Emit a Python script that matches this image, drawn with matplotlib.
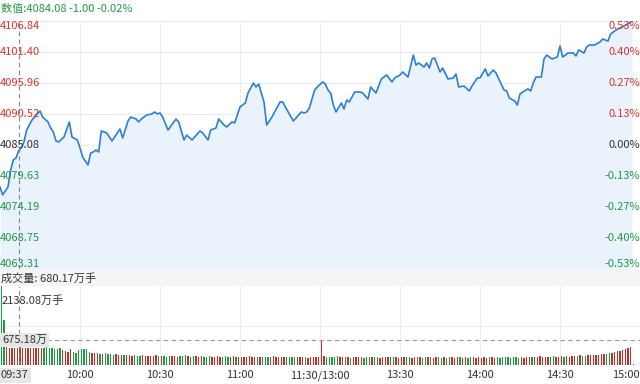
import numpy as np
import matplotlib
matplotlib.use("Agg")
import matplotlib.pyplot as plt

plt.rcParams['font.family'] = ['Noto Sans CJK SC', 'DejaVu Sans']

# ---------------- data ----------------
base_price = 4085.08
price_ticks = [4106.84, 4101.40, 4095.96, 4090.52, 4085.08, 4079.63, 4074.19, 4068.75, 4063.31]
pct_labels = ["0.53%", "0.40%", "0.27%", "0.13%", "0.00%", "-0.13%", "-0.27%", "-0.40%", "-0.53%"]

price_min = [0, 1, 3, 4, 5, 6, 7, 8, 9, 10, 12, 13, 15, 16, 18, 19, 20, 21, 22, 24, 26, 27, 29, 30,
             31, 33, 34, 35, 36, 37, 38, 39, 40, 42, 43, 45, 46, 48, 49, 51, 52, 53, 55, 57, 58, 59,
             60, 61, 63, 66, 67, 69, 70, 72, 75, 76, 78, 79, 81, 82, 84, 85, 87, 88, 90, 92, 93, 95,
             96, 97, 99, 100, 102, 105, 106, 107, 110, 113, 114, 115, 116, 118, 119, 121, 122, 123,
             124, 125, 126, 128, 129, 130, 131, 133, 135, 136, 138, 139, 141, 143, 145, 147, 148,
             150, 151, 153, 155, 156, 157, 159, 160, 161, 162, 163, 165, 166, 168, 170, 171, 172,
             174, 176, 177, 179, 180, 182, 183, 185, 186, 189, 190, 191, 193, 194, 195, 196, 198,
             199, 200, 201, 203, 204, 205, 207, 209, 210, 211, 213, 215, 216, 217, 219, 220, 221,
             223, 225, 226, 228, 229, 231, 234, 236, 237]
price_val = [4077.71, 4076.31, 4077.71, 4080.69, 4082.45, 4082.80, 4084.08, 4084.55, 4085.61, 4087.71,
             4089.47, 4089.99, 4091.05, 4089.99, 4089.12, 4088.06, 4087.36, 4085.78, 4085.61, 4086.48,
             4089.12, 4086.48, 4085.96, 4084.55, 4082.97, 4081.57, 4083.68, 4083.85, 4084.20, 4083.85,
             4087.54, 4087.36, 4087.19, 4085.78, 4086.48, 4087.89, 4086.31, 4089.29, 4089.99, 4089.64,
             4089.12, 4089.64, 4090.34, 4090.52, 4090.87, 4090.52, 4090.70, 4089.99, 4087.71, 4089.64,
             4089.12, 4085.96, 4086.83, 4085.96, 4087.54, 4087.19, 4085.96, 4087.71, 4088.06, 4089.64,
             4088.59, 4088.24, 4089.12, 4088.94, 4091.75, 4092.45, 4094.20, 4095.96, 4095.26, 4095.78,
             4092.63, 4088.59, 4089.99, 4092.63, 4092.63, 4091.75, 4089.29, 4090.87, 4090.70, 4090.87,
             4091.57, 4094.73, 4095.26, 4096.14, 4095.78, 4094.73, 4094.20, 4092.10, 4090.87, 4092.45,
             4091.40, 4092.98, 4092.63, 4094.38, 4094.38, 4094.20, 4093.15, 4095.26, 4094.20, 4096.66,
             4097.36, 4096.14, 4096.84, 4097.36, 4097.89, 4097.01, 4100.87, 4099.12, 4099.47, 4098.77,
             4099.47, 4098.59, 4100.17, 4100.35, 4097.89, 4098.59, 4096.66, 4096.84, 4097.54, 4095.26,
             4095.43, 4094.56, 4095.43, 4096.84, 4096.84, 4098.42, 4097.19, 4098.24, 4097.71, 4094.73,
             4094.56, 4093.33, 4092.80, 4092.10, 4094.03, 4094.38, 4094.91, 4094.56, 4095.96, 4097.01,
             4097.01, 4100.17, 4100.87, 4100.17, 4100.52, 4102.45, 4100.52, 4101.22, 4101.22, 4100.70,
             4101.75, 4101.22, 4102.28, 4102.63, 4102.63, 4103.15, 4103.68, 4103.33, 4104.56, 4105.26,
             4105.96, 4106.49, 4106.84]

volume = [2138, 1215, 520, 470, 460, 470, 450, 680, 470, 460,
          455, 465, 450, 470, 460, 455, 470, 480, 465, 470,
          440, 430, 470, 400, 380, 350, 420, 360, 330, 400,
          430, 440, 440, 360, 330, 320, 330, 310, 300, 320,
          290, 300, 280, 290, 270, 260, 280, 270, 260, 250,
          260, 250, 240, 260, 250, 240, 250, 240, 260, 250,
          240, 250, 230, 240, 250, 240, 230, 240, 250, 270,
          240, 230, 240, 250, 230, 240, 220, 230, 240, 230,
          230, 240, 220, 230, 240, 230, 220, 240, 230, 220,
          230, 220, 230, 240, 220, 210, 230, 220, 220, 230,
          220, 230, 240, 220, 230, 220, 210, 230, 220, 220,
          230, 210, 220, 230, 210, 200, 220, 210, 220, 210,
          650, 250, 230, 220, 230, 220, 240, 220, 210, 230,
          220, 200, 210, 220, 210, 220, 200, 210, 230, 220,
          210, 220, 200, 230, 210, 220, 230, 210, 220, 200,
          210, 230, 220, 210, 200, 220, 210, 220, 200, 210,
          220, 210, 200, 210, 220, 200, 210, 200, 220, 210,
          200, 210, 220, 200, 210, 200, 210, 220, 200, 210,
          200, 210, 200, 220, 210, 200, 210, 200, 220, 210,
          210, 200, 220, 210, 200, 210, 200, 220, 210, 230,
          220, 210, 240, 220, 230, 220, 230, 240, 230, 220,
          250, 230, 240, 230, 250, 240, 250, 260, 240, 250,
          260, 270, 260, 280, 270, 290, 300, 310, 320, 330,
          350, 370, 390, 400, 420, 450, 480, 15]

time_labels = ["10:00", "10:30", "11:00", "11:30/13:00", "13:30", "14:00", "14:30", "15:00"]
time_pos = [30, 60, 90, 120, 150, 180, 210, 240]

cross_min = 7
cross_time = "09:37"
cross_vol_label = "675.18万"
cross_vol_value = 675.18
vol_max = 2138.08
header = "数值:4084.08 -1.00 -0.02%"
vol_header = "成交量: 680.17万手"

# ---------------- style ----------------
W, H = 640, 384
RED = '#e0332b'
GREEN = '#1f9a47'
BAR_RED = '#c0302a'
BAR_GREEN = '#1e9a45'
GRID = '#e8ecf3'
LINE = '#2b7fd6'
FS = 8

fig = plt.figure(figsize=(W / 100, H / 100), dpi=100)
fig.patch.set_facecolor('white')

def px_axes(x0, y0, x1, y1):
    return fig.add_axes([x0 / W, 1 - y1 / H, (x1 - x0) / W, (y1 - y0) / H])

# main price axes
ax = px_axes(0, 21, 640, 269)
ax.set_xlim(0, 240)
ax.set_ylim(price_ticks[-1], price_ticks[0])
for s in ax.spines.values():
    s.set_visible(False)
ax.set_xticks([])
ax.set_yticks([])
for p in price_ticks:
    ax.axhline(p, color=GRID, lw=0.8, zorder=0)
for t in time_pos[:-1]:
    ax.axvline(t, color=GRID, lw=0.8, zorder=0)
ax.fill_between(price_min, price_val, price_ticks[-1], color='#eaf2fc', lw=0, zorder=1)
ax.plot(price_min, price_val, color=LINE, lw=1.2, zorder=3)

for i, (p, pl) in enumerate(zip(price_ticks, pct_labels)):
    if p > base_price:
        c = RED
    elif p < base_price:
        c = GREEN
    else:
        c = '#333333'
    va = 'center'
    if i == 0:
        va = 'top'
    elif i == len(price_ticks) - 1:
        va = 'bottom'
    ax.text(0.0, p, f"{p:.2f}", color=c, fontsize=FS, va=va, ha='left',
            transform=ax.get_yaxis_transform(), zorder=5)
    ax.text(1.0, p, pl, color=c, fontsize=FS, va=va, ha='right',
            transform=ax.get_yaxis_transform(), zorder=5)

# header
fig.text(1 / W, 1 - 9 / H, header, color=GREEN, fontsize=FS, va='center', ha='left')

# volume header band
band = px_axes(0, 269, 640, 288)
band.set_facecolor('#f4f5f7')
band.set_xticks([]); band.set_yticks([])
for s in band.spines.values():
    s.set_visible(False)
band.text(0.002, 0.5, vol_header, color='#333333', fontsize=FS, va='center', ha='left',
          transform=band.transAxes)

# volume axes
vax = px_axes(0, 286, 640, 365)
vax.set_xlim(0, 240)
vax.set_ylim(0, vol_max)
for s in vax.spines.values():
    s.set_visible(False)
vax.set_xticks([]); vax.set_yticks([])
for t in time_pos[:-1]:
    vax.axvline(t, color=GRID, lw=0.8, zorder=0)
vax.axhline(vol_max / 2, color=GRID, lw=0.8, zorder=0)

pm = np.array(price_min)
pv = np.array(price_val)
mins = np.arange(len(volume))
px_each = np.interp(mins, pm, pv)
prev = np.concatenate([[base_price], px_each[:-1]])
colors = [BAR_RED if a >= b else BAR_GREEN for a, b in zip(px_each, prev)]
colors[0] = BAR_GREEN
vax.bar(mins + 0.5, volume, width=0.45, color=colors, zorder=2)

vax.text(0.003, 0.82, f"{vol_max:.2f}万手", color='#333333', fontsize=FS, va='center', ha='left',
         transform=vax.transAxes, zorder=5)

# crosshair
vax.axhline(cross_vol_value, color='#999999', lw=0.8, ls=(0, (4, 3)), zorder=4)
vax.text(0.003, cross_vol_value, cross_vol_label, color='#333333', fontsize=FS, va='center', ha='left',
         transform=vax.get_yaxis_transform(), zorder=6,
         bbox=dict(boxstyle='square,pad=0.15', fc='#e6e6e6', ec='none'))
for a in (ax, vax):
    a.axvline(cross_min, color='#888888', lw=0.8, ls=(0, (4, 3)), zorder=4)

# time axis
tax = px_axes(0, 365, 640, 384)
tax.set_xlim(0, 240)
tax.set_ylim(0, 1)
tax.axis('off')
for lab, pos in zip(time_labels, time_pos):
    ha = 'center'
    if pos == 240:
        ha = 'right'
    tax.text(pos, 0.45, lab, color='#333333', fontsize=FS, ha=ha, va='center')
tax.text(0.3, 0.45, cross_time, color='#333333', fontsize=FS, ha='left', va='center',
         bbox=dict(boxstyle='square,pad=0.2', fc='#e6e6e6', ec='none'))

fig.savefig('out.png', dpi=100, facecolor='white')
